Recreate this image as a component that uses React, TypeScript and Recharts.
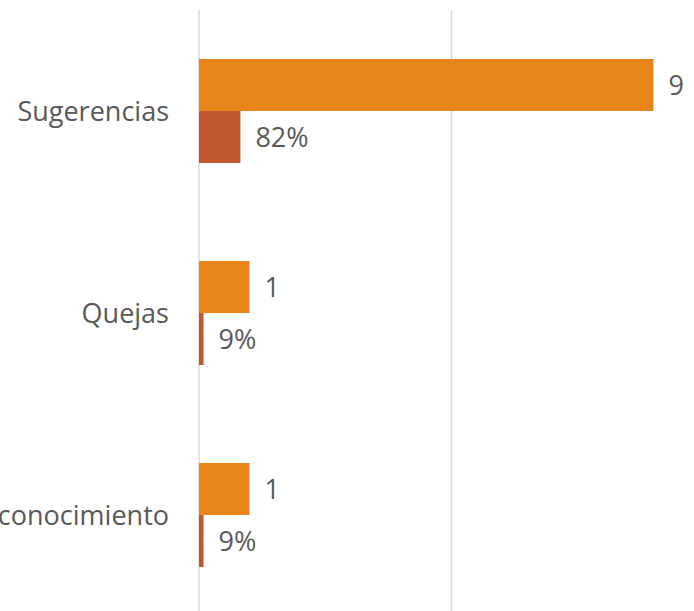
import { Bar, BarChart, CartesianGrid, LabelList, XAxis, YAxis } from "recharts";

const categories = ["Sugerencias", "Quejas", "Reconocimiento"];
const counts = [9, 1, 1];
const shares = [0.82, 0.09, 0.09];
const gridTicks = [0, 5, 10];

const data = categories.map((name, i) => ({ name, count: counts[i], share: shares[i] }));

const FONT = "'Open Sans', sans-serif";
const TEXT = "#595959";

const fmtPct = (v: unknown) => `${Math.round(Number(v) * 100)}%`;

export default function App() {
  return (
    <div style={{ position: "fixed", top: 0, left: 0, width: 694, height: 611, overflow: "hidden", background: "#fff" }}>
      <BarChart
        width={694}
        height={620}
        data={data}
        layout="vertical"
        margin={{ top: 10, right: -10, bottom: 4, left: 0 }}
        barGap={0}
        barSize={52}
      >
        <CartesianGrid horizontal={false} stroke="#d9d9d9" strokeWidth={1.5} />
        <XAxis type="number" domain={[0, 10]} ticks={gridTicks} hide />
        <YAxis
          type="category"
          dataKey="name"
          width={199}
          axisLine={false}
          tickLine={false}
          tickSize={0}
          tickMargin={30}
          tick={{ fill: TEXT, fontSize: 27, fontFamily: FONT }}
        />
        <Bar dataKey="count" fill="#E7841A" isAnimationActive={false}>
          <LabelList dataKey="count" position="right" offset={15} fill={TEXT} fontSize={27} fontFamily={FONT} />
        </Bar>
        <Bar dataKey="share" fill="#C0592D" isAnimationActive={false}>
          <LabelList dataKey="share" position="right" offset={15} fill={TEXT} fontSize={27} fontFamily={FONT} formatter={fmtPct} />
        </Bar>
      </BarChart>
    </div>
  );
}
